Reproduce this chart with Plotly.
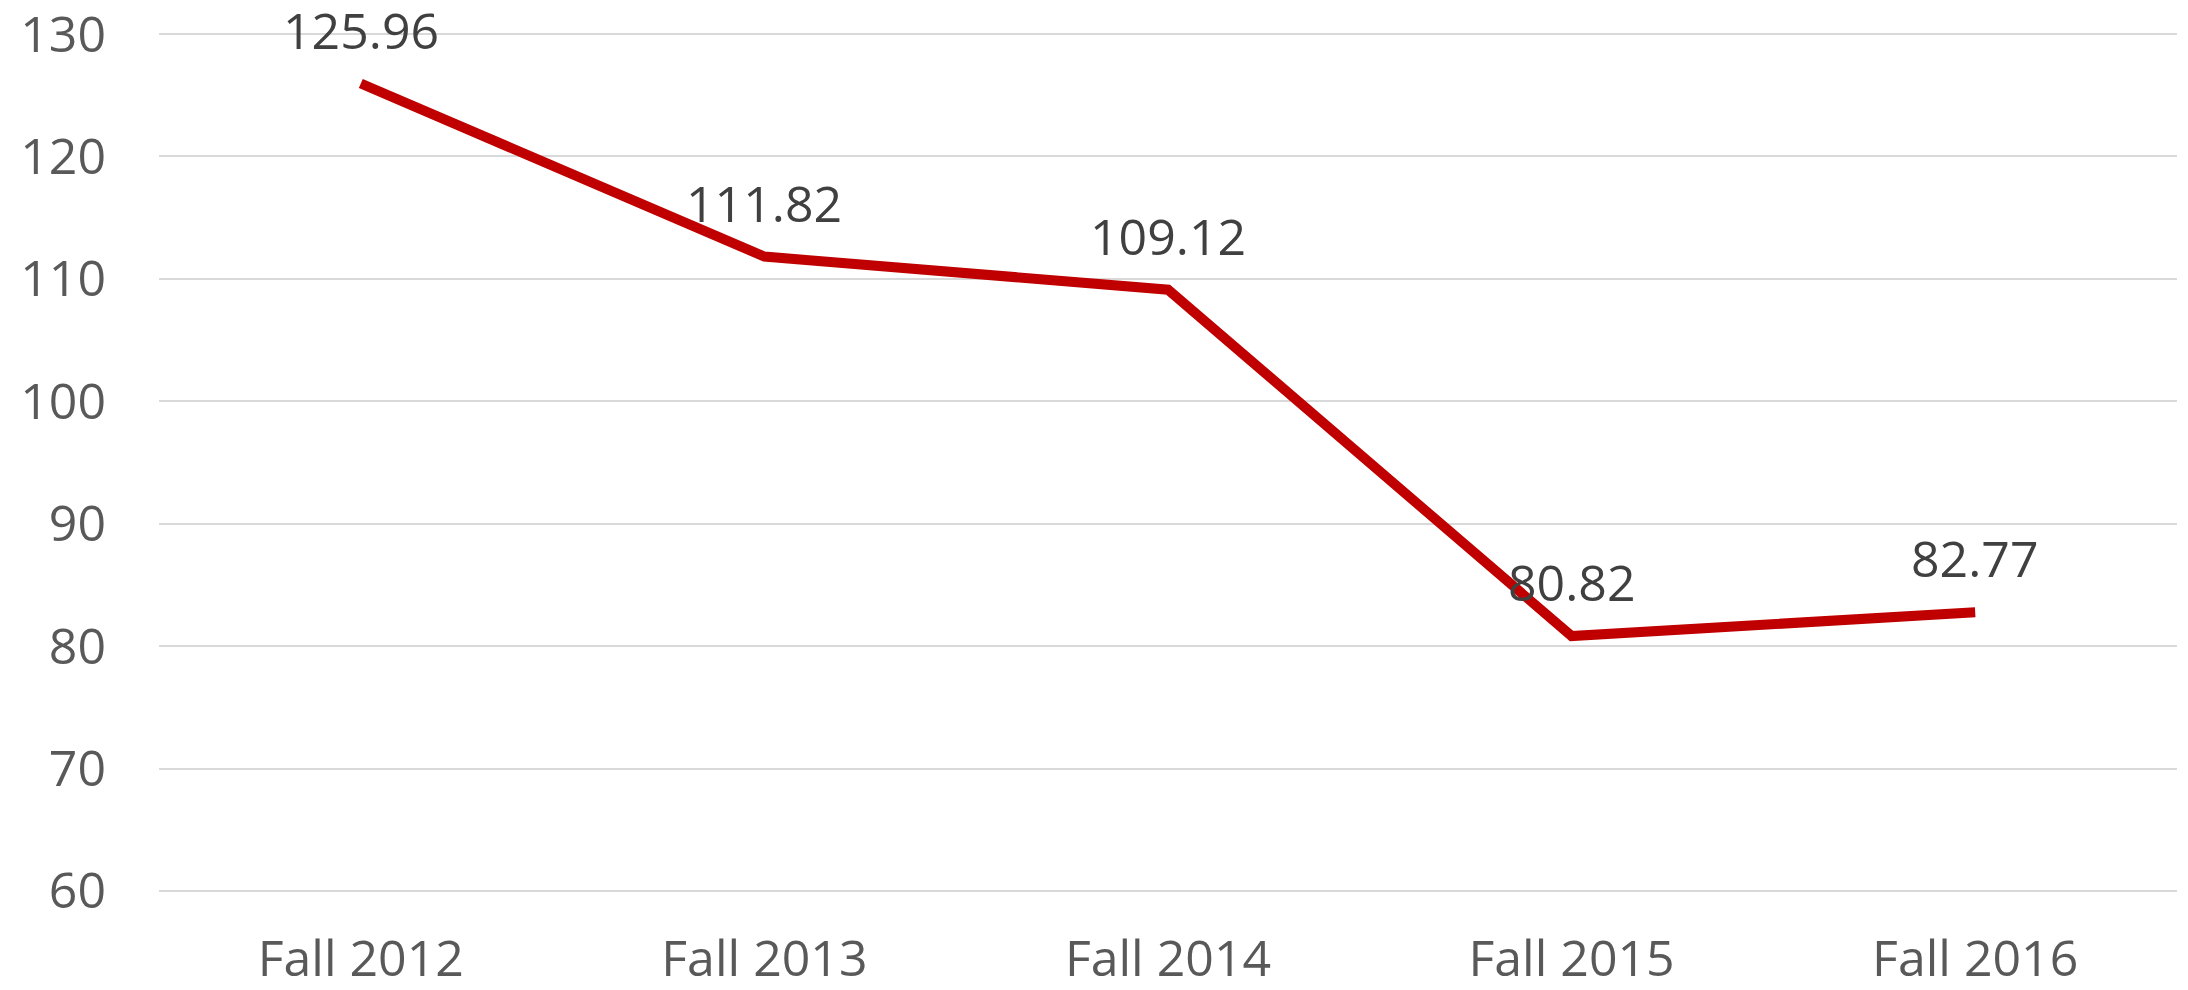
import plotly.graph_objects as go

categories = ["Fall 2012", "Fall 2013", "Fall 2014", "Fall 2015", "Fall 2016"]
values = [125.96, 111.82, 109.12, 80.82, 82.77]
value_labels = ["125.96", "111.82", "109.12", "80.82", "82.77"]
y_ticks = [60, 70, 80, 90, 100, 110, 120, 130]

FONT = "Open Sans"

fig = go.Figure()
fig.add_trace(go.Scatter(
    x=categories, y=values, mode="lines",
    line=dict(color="#C00000", width=10),
    hoverinfo="skip", showlegend=False,
))

for c, v, t in zip(categories, values, value_labels):
    fig.add_annotation(
        x=c, y=v, text=t, showarrow=False, borderpad=0,
        xanchor="center", yanchor="middle", yshift=54,
        font=dict(family=FONT, size=50, color="#404040"),
    )

fig.update_layout(
    width=2180, height=982,
    margin=dict(l=151, r=11, t=23, b=96, autoexpand=False),
    paper_bgcolor="white", plot_bgcolor="white",
    showlegend=False,
)
fig.update_xaxes(
    type="category", range=[-0.5, 4.5], automargin=False,
    showgrid=False, showline=False, zeroline=False,
    ticks="", ticklabelstandoff=31, ticklabeloverflow="allow",
    tickfont=dict(family=FONT, size=50, color="#595959"),
)
fig.update_yaxes(
    range=[59.75, 130.25], tickvals=y_ticks, automargin=False,
    showgrid=True, gridcolor="#D9D9D9", gridwidth=2,
    zeroline=False, showline=False, ticks="",
    ticklabelstandoff=52, ticklabeloverflow="allow",
    tickfont=dict(family=FONT, size=50, color="#595959"),
)

fig.write_html("out.html")
